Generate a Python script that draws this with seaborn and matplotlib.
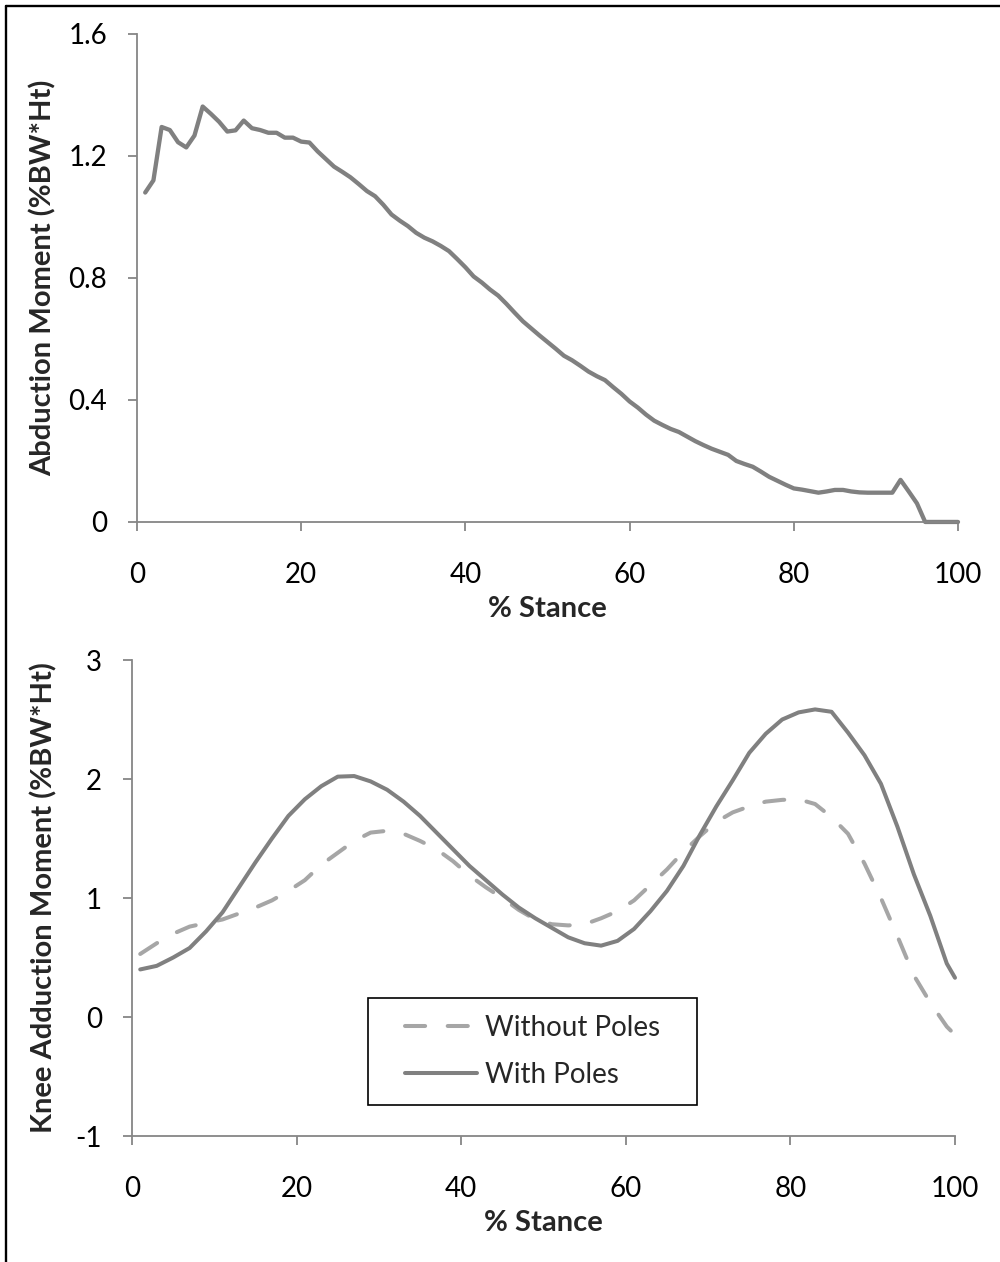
import numpy as np
import pandas as pd
import matplotlib
matplotlib.use('Agg')
import matplotlib.pyplot as plt
import seaborn as sns
from matplotlib.lines import Line2D
from matplotlib.patches import Rectangle

# ------------------------------------------------------------
# data
# ------------------------------------------------------------
stance_top = list(range(1, 101))
abduction = [
    1.080, 1.120, 1.295, 1.285, 1.245, 1.228, 1.267, 1.362, 1.338, 1.312,
    1.280, 1.284, 1.316, 1.291, 1.285, 1.276, 1.276, 1.260, 1.260, 1.247,
    1.244, 1.215, 1.190, 1.165, 1.148, 1.130, 1.108, 1.085, 1.068, 1.040,
    1.008, 0.988, 0.970, 0.948, 0.932, 0.920, 0.905, 0.888, 0.862, 0.835,
    0.805, 0.785, 0.762, 0.742, 0.715, 0.686, 0.658, 0.635, 0.612, 0.590,
    0.568, 0.545, 0.530, 0.512, 0.493, 0.478, 0.465, 0.442, 0.420, 0.395,
    0.375, 0.352, 0.332, 0.318, 0.305, 0.295, 0.280, 0.265, 0.252, 0.240,
    0.230, 0.220, 0.200, 0.190, 0.181, 0.165, 0.148, 0.135, 0.122, 0.110,
    0.106, 0.101, 0.096, 0.100, 0.105, 0.105, 0.100, 0.097, 0.096, 0.096,
    0.096, 0.096, 0.138, 0.100, 0.061, 0.000, 0.000, 0.000, 0.000, 0.000,
]

stance_bot = list(range(1, 100, 2)) + [100]
without_poles = [
    0.53, 0.62, 0.70, 0.76, 0.79, 0.82, 0.87, 0.92, 0.98, 1.06,
    1.15, 1.28, 1.38, 1.48, 1.55, 1.565, 1.54, 1.48, 1.41, 1.31,
    1.19, 1.09, 1.00, 0.90, 0.82, 0.78, 0.77, 0.78, 0.83, 0.89,
    0.98, 1.11, 1.24, 1.39, 1.52, 1.64, 1.72, 1.77, 1.81, 1.825,
    1.83, 1.79, 1.68, 1.54, 1.29, 1.00, 0.68, 0.35, 0.12, -0.08,
    -0.15,
]
with_poles = [
    0.40, 0.43, 0.50, 0.58, 0.72, 0.88, 1.09, 1.30, 1.50, 1.69,
    1.83, 1.94, 2.02, 2.025, 1.98, 1.91, 1.81, 1.69, 1.55, 1.41,
    1.27, 1.15, 1.03, 0.92, 0.83, 0.75, 0.67, 0.62, 0.60, 0.64,
    0.74, 0.89, 1.06, 1.27, 1.53, 1.77, 1.99, 2.22, 2.38, 2.50,
    2.56, 2.585, 2.565, 2.39, 2.20, 1.96, 1.60, 1.20, 0.85, 0.45,
    0.33,
]
conditions = ['Without Poles', 'With Poles']

knee = pd.DataFrame({
    'stance': stance_bot * 2,
    'moment': without_poles + with_poles,
    'condition': [conditions[0]] * len(stance_bot) + [conditions[1]] * len(stance_bot),
})

# ------------------------------------------------------------
# style
# ------------------------------------------------------------
sns.set_style('ticks')
plt.rcParams['font.family'] = ['Lato', 'DejaVu Sans']

AXIS_GREY = '#868686'
TICK_FS = 20
LABEL_FS = 21

fig = plt.figure(figsize=(10, 12.62), dpi=100)
ax1 = fig.add_axes([0.137, 0.5864, 0.821, 0.3867])
ax2 = fig.add_axes([0.132, 0.0998, 0.823, 0.3772])


def style_axis(ax):
    for side in ['top', 'right']:
        ax.spines[side].set_visible(False)
    for side in ['left', 'bottom']:
        ax.spines[side].set_color(AXIS_GREY)
        ax.spines[side].set_linewidth(1.3)
    ax.tick_params(axis='both', direction='out', length=6.5, width=1.3,
                   color=AXIS_GREY, labelcolor='black', labelsize=TICK_FS)
    ax.tick_params(axis='x', pad=22)
    ax.tick_params(axis='y', pad=15)
    ax.set_xlim(0, 100)
    ax.set_xticks([0, 20, 40, 60, 80, 100])
    ax.set_xlabel('% Stance', fontsize=LABEL_FS, fontweight='bold', labelpad=6)


# --- top: abduction moment
sns.lineplot(x=stance_top, y=abduction, color='#808080', linewidth=3.1,
             clip_on=False, ax=ax1)
style_axis(ax1)
ax1.set_ylim(0, 1.6)
ax1.set_yticks([0, 0.4, 0.8, 1.2, 1.6])
ax1.set_yticklabels(['0', '0.4', '0.8', '1.2', '1.6'])
ax1.set_ylabel('Abduction Moment (%BW*Ht)', fontsize=LABEL_FS, fontweight='bold')
ax1.yaxis.set_label_coords(-0.0974, 0.5)

# --- bottom: knee adduction moment
sns.lineplot(data=knee, x='stance', y='moment', hue='condition', style='condition',
             hue_order=conditions, style_order=conditions,
             palette={'Without Poles': '#A6A6A6', 'With Poles': '#808080'},
             dashes={'Without Poles': (5.0, 5.6), 'With Poles': ''},
             linewidth=2.9, dash_capstyle='round', clip_on=False, ax=ax2)
style_axis(ax2)
ax2.set_ylim(-1, 3)
ax2.set_yticks([-1, 0, 1, 2, 3])
ax2.set_yticklabels(['-1', '0', '1', '2', '3'])
ax2.set_ylabel('Knee Adduction Moment (%BW*Ht)', fontsize=LABEL_FS, fontweight='bold')
ax2.yaxis.set_label_coords(-0.091, 0.5)

handles, labels = ax2.get_legend_handles_labels()
ax2.legend(handles, labels, loc='center', bbox_to_anchor=(0.5325, 0.1668),
           bbox_transform=fig.transFigure, frameon=False, fontsize=20,
           handlelength=2.6, handletextpad=0.3, labelspacing=0.75)
fig.add_artist(Rectangle((0.368, 0.1244), 0.329, 0.0848, transform=fig.transFigure,
                         fill=False, edgecolor='black', linewidth=1.2))

# outer frame of the exported chart
fig.add_artist(Line2D([0.006, 0.006], [0.0, 0.9953], transform=fig.transFigure,
                      color='black', linewidth=1.7))
fig.add_artist(Line2D([0.006, 1.0], [0.9953, 0.9953], transform=fig.transFigure,
                      color='black', linewidth=1.7))

fig.savefig('out.png', dpi=100, facecolor='white')
